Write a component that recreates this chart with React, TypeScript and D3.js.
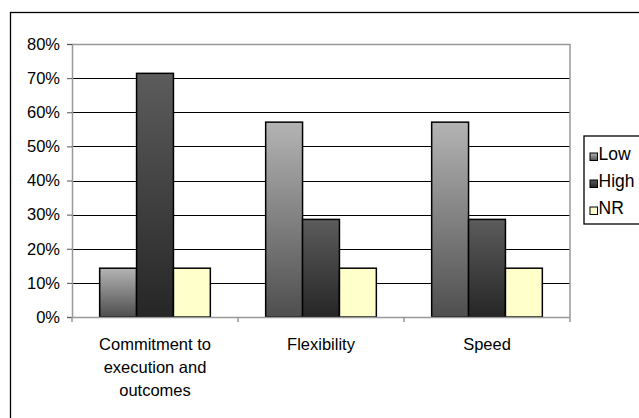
import React, { useRef, useEffect } from 'react';
import * as d3 from 'd3';

const categories = [
  ['Commitment to', 'execution and', 'outcomes'],
  ['Flexibility'],
  ['Speed'],
];
const seriesNames = ['Low', 'High', 'NR'];
const lowValues = [0.143, 0.571, 0.571];
const highValues = [0.714, 0.286, 0.286];
const nrValues = [0.143, 0.143, 0.143];
const yTicks = [0, 0.1, 0.2, 0.3, 0.4, 0.5, 0.6, 0.7, 0.8];

const App: React.FC = () => {
  const ref = useRef<SVGSVGElement | null>(null);

  useEffect(() => {
    if (!ref.current) return;
    document.body.style.margin = '0';
    const svg = d3.select(ref.current);
    svg.selectAll('*').remove();

    const width = 639;
    const height = 418;
    const plot = { left: 72, top: 44, right: 570, bottom: 317 };
    const font = 'Liberation Sans, Arial, sans-serif';

    // gradients for the grey bars
    const defs = svg.append('defs');
    const grads = [
      { id: 'gLow', top: '#b4b4b4', bottom: '#4e4e4e' },
      { id: 'gHigh', top: '#5c5c5c', bottom: '#262626' },
    ];
    grads.forEach(g => {
      const lg = defs.append('linearGradient')
        .attr('id', g.id)
        .attr('x1', 0).attr('y1', 0).attr('x2', 0).attr('y2', 1);
      lg.append('stop').attr('offset', '0%').attr('stop-color', g.top);
      lg.append('stop').attr('offset', '100%').attr('stop-color', g.bottom);
    });
    const fills = ['url(#gLow)', 'url(#gHigh)', '#ffffcc'];

    // outer frame (runs off the right and bottom edges)
    svg.append('rect')
      .attr('x', 10.5).attr('y', 12.5)
      .attr('width', width + 20).attr('height', height + 20)
      .attr('fill', 'white')
      .attr('stroke', 'black')
      .attr('stroke-width', 1.3);

    const x0 = d3.scaleBand<number>()
      .domain(d3.range(categories.length))
      .range([plot.left, plot.right]);
    const x1 = d3.scaleBand<number>()
      .domain(d3.range(seriesNames.length))
      .range([0, x0.bandwidth()])
      .paddingInner(0)
      .paddingOuter(0.75);
    const y = d3.scaleLinear()
      .domain([0, 0.8])
      .range([plot.bottom, plot.top]);

    // gridlines
    svg.append('g')
      .selectAll('line')
      .data(yTicks.filter(t => t > 0 && t < 0.8))
      .join('line')
      .attr('x1', plot.left).attr('x2', plot.right)
      .attr('y1', d => Math.round(y(d)) + 0.5)
      .attr('y2', d => Math.round(y(d)) + 0.5)
      .attr('stroke', 'black')
      .attr('stroke-width', 1);

    // plot area border (top, right)
    svg.append('path')
      .attr('d', `M${plot.left},${plot.top + 0.5}H${plot.right}V${plot.bottom}`)
      .attr('fill', 'none')
      .attr('stroke', '#999')
      .attr('stroke-width', 1.5);

    const series = [lowValues, highValues, nrValues];

    // bars
    const groups = svg.append('g')
      .selectAll('g')
      .data(categories.map((_, i) => i))
      .join('g')
      .attr('transform', i => `translate(${x0(i)},0)`);

    groups.selectAll('rect')
      .data(i => series.map((s, k) => ({ k, v: s[i] })))
      .join('rect')
      .attr('x', d => x1(d.k)!)
      .attr('y', d => y(d.v))
      .attr('width', x1.bandwidth())
      .attr('height', d => y(0) - y(d.v))
      .attr('fill', d => fills[d.k])
      .attr('stroke', 'black')
      .attr('stroke-width', 1.5);

    // y axis
    const yAxis = svg.append('g')
      .attr('transform', `translate(${plot.left},0)`)
      .call(d3.axisLeft(y).tickValues(yTicks).tickFormat(d3.format('.0%')).tickSize(5).tickPadding(7));
    yAxis.select('.domain').attr('stroke', '#999').attr('stroke-width', 1.5);
    yAxis.selectAll('line').attr('stroke', '#555');
    yAxis.selectAll('text')
      .attr('font-family', font)
      .attr('font-size', 16.5)
      .attr('fill', 'black');

    // x axis
    const xAxisG = svg.append('g');
    xAxisG.append('line')
      .attr('x1', plot.left).attr('x2', plot.right)
      .attr('y1', plot.bottom + 0.5).attr('y2', plot.bottom + 0.5)
      .attr('stroke', '#999').attr('stroke-width', 1.5);
    xAxisG.selectAll('line.tick')
      .data(d3.range(categories.length + 1))
      .join('line')
      .attr('class', 'tick')
      .attr('x1', i => plot.left + i * x0.bandwidth())
      .attr('x2', i => plot.left + i * x0.bandwidth())
      .attr('y1', plot.bottom)
      .attr('y2', plot.bottom + 5)
      .attr('stroke', '#999')
      .attr('stroke-width', 1.5);

    const labels = xAxisG.selectAll('text')
      .data(categories)
      .join('text')
      .attr('x', (_, i) => x0(i)! + x0.bandwidth() / 2)
      .attr('y', 350)
      .attr('text-anchor', 'middle')
      .attr('font-family', font)
      .attr('font-size', 16.5)
      .attr('fill', 'black');
    labels.selectAll('tspan')
      .data(d => d)
      .join('tspan')
      .attr('x', function () {
        return (this.parentNode as SVGTextElement).getAttribute('x');
      })
      .attr('dy', (_, j) => (j === 0 ? 0 : 23))
      .text(d => d);

    // legend
    const legend = svg.append('g');
    legend.append('rect')
      .attr('x', 584).attr('y', 136)
      .attr('width', 100).attr('height', 88)
      .attr('fill', 'white')
      .attr('stroke', 'black')
      .attr('stroke-width', 1.3);
    seriesNames.forEach((name, k) => {
      const ly = 153 + k * 27;
      legend.append('rect')
        .attr('x', 590).attr('y', ly)
        .attr('width', 7.5).attr('height', 7.5)
        .attr('fill', fills[k])
        .attr('stroke', 'black')
        .attr('stroke-width', 1);
      legend.append('text')
        .attr('x', 598.5).attr('y', ly + 7)
        .attr('font-family', font)
        .attr('font-size', 17.5)
        .attr('fill', 'black')
        .text(name);
    });
  }, []);

  return (
    <svg
      ref={ref}
      width={639}
      height={418}
      style={{ position: 'absolute', left: 0, top: 0, display: 'block' }}
    />
  );
};

export default App;
